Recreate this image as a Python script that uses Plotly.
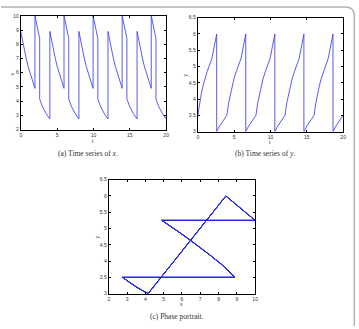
import plotly.graph_objects as go

W, H = 359, 329

# ---- data (5 periods of the time series) ----
t_vals = [
    0.00, 0.25, 0.50, 0.75, 1.00, 1.30, 1.60, 1.95, 1.95, 2.60, 2.60, 3.00, 3.50, 4.00,
    4.00, 4.25, 4.50, 4.75, 5.00, 5.30, 5.60, 5.95, 5.95, 6.60, 6.60, 7.00, 7.50, 8.00,
    8.00, 8.25, 8.50, 8.75, 9.00, 9.30, 9.60, 9.95, 9.95, 10.60, 10.60, 11.00, 11.50, 12.00,
    12.00, 12.25, 12.50, 12.75, 13.00, 13.30, 13.60, 13.95, 13.95, 14.60, 14.60, 15.00, 15.50, 16.00,
    16.00, 16.25, 16.50, 16.75, 17.00, 17.30, 17.60, 17.95, 17.95, 18.60, 18.60, 19.00, 19.50, 20.00,
]
x_vals = [
    8.90, 8.18, 7.54, 6.98, 6.46, 5.94, 5.46, 4.90, 10.0, 8.40, 4.15, 3.60, 3.12, 2.75,
    8.90, 8.18, 7.54, 6.98, 6.46, 5.94, 5.46, 4.90, 10.0, 8.40, 4.15, 3.60, 3.12, 2.75,
    8.90, 8.18, 7.54, 6.98, 6.46, 5.94, 5.46, 4.90, 10.0, 8.40, 4.15, 3.60, 3.12, 2.75,
    8.90, 8.18, 7.54, 6.98, 6.46, 5.94, 5.46, 4.90, 10.0, 8.40, 4.15, 3.60, 3.12, 2.75,
    8.90, 8.18, 7.54, 6.98, 6.46, 5.94, 5.46, 4.90, 10.0, 8.40, 4.15, 3.60, 3.12, 2.75,
]
y_vals = [
    3.50, 3.89, 4.18, 4.43, 4.64, 4.85, 5.04, 5.25, 5.25, 6.00, 3.00, 3.17, 3.35, 3.50,
    3.50, 3.89, 4.18, 4.43, 4.64, 4.85, 5.04, 5.25, 5.25, 6.00, 3.00, 3.17, 3.35, 3.50,
    3.50, 3.89, 4.18, 4.43, 4.64, 4.85, 5.04, 5.25, 5.25, 6.00, 3.00, 3.17, 3.35, 3.50,
    3.50, 3.89, 4.18, 4.43, 4.64, 4.85, 5.04, 5.25, 5.25, 6.00, 3.00, 3.17, 3.35, 3.50,
    3.50, 3.89, 4.18, 4.43, 4.64, 4.85, 5.04, 5.25, 5.25, 6.00, 3.00, 3.17, 3.35, 3.50,
]

captions = ["(a) Time series of <i>x</i>.", "(b) Time series of <i>y</i>.", "(c) Phase portrait."]


def px(x):
    return x / W


def py(y):
    return 1 - y / H


LINE_TS = dict(color="#4848ea", width=0.9)
LINE_PH = dict(color="#2a2ae0", width=1)

fig = go.Figure()
fig.add_trace(go.Scatter(x=t_vals, y=x_vals, mode="lines", line=LINE_TS, xaxis="x", yaxis="y"))
fig.add_trace(go.Scatter(x=t_vals, y=y_vals, mode="lines", line=LINE_TS, xaxis="x2", yaxis="y2"))
fig.add_trace(go.Scatter(x=x_vals, y=y_vals, mode="lines", line=LINE_PH, xaxis="x3", yaxis="y3"))

tickfont = dict(family="Liberation Sans, Arial, sans-serif", size=5, color="#333")
common = dict(showline=True, linecolor="black", linewidth=1, mirror="ticks",
              ticks="inside", ticklen=2, tickcolor="black", tickwidth=0.8,
              showgrid=False, zeroline=False, tickfont=tickfont)

fig.update_layout(
    width=W, height=H, autosize=False,
    margin=dict(l=0, r=0, t=0, b=0),
    paper_bgcolor="white", plot_bgcolor="white",
    showlegend=False,
    xaxis=dict(domain=[px(20), px(167)], range=[0, 20], dtick=5, anchor="y", **common),
    yaxis=dict(domain=[py(129), py(13)], range=[2, 10], dtick=1, anchor="x", **common),
    xaxis2=dict(domain=[px(199), px(346)], range=[0, 20], dtick=5, anchor="y2", **common),
    yaxis2=dict(domain=[py(131), py(15)], range=[3, 6.5], dtick=0.5, anchor="x2", **common),
    xaxis3=dict(domain=[px(109), px(257)], range=[2, 10], dtick=1, anchor="y3", **common),
    yaxis3=dict(domain=[py(296), py(180)], range=[3, 6.5], dtick=0.5, anchor="x3", **common),
)

lab_font = dict(family="Liberation Sans, Arial, sans-serif", size=5, color="#333")
cap_font = dict(family="Liberation Serif, Times New Roman, serif", size=7.5, color="#333")

ann = [
    (93.5, 141, "t", 0, lab_font),
    (11, 72, "x", -90, lab_font),
    (272.5, 142, "t", 0, lab_font),
    (186, 73, "y", -90, lab_font),
    (183, 307, "x", 0, lab_font),
    (97, 238, "y", -90, lab_font),
    (88, 153, captions[0], 0, cap_font),
    (267, 153, captions[1], 0, cap_font),
    (178, 319, captions[2], 0, cap_font),
]
for x, y, text, ang, f in ann:
    fig.add_annotation(x=px(x), y=py(y), xref="paper", yref="paper", text=text,
                       showarrow=False, textangle=ang, font=f,
                       xanchor="center", yanchor="middle")

# outer gray frame with rounded top-right corner
path = (f"M 0,{py(4)} L {px(348)},{py(4)} "
        f"Q {px(357.3)},{py(4)} {px(357.3)},{py(13)} "
        f"L {px(357.3)},0")
fig.add_shape(type="path", path=path, xref="paper", yref="paper",
              line=dict(color="#b4b4b4", width=1.5))

fig.write_html("out.html")
